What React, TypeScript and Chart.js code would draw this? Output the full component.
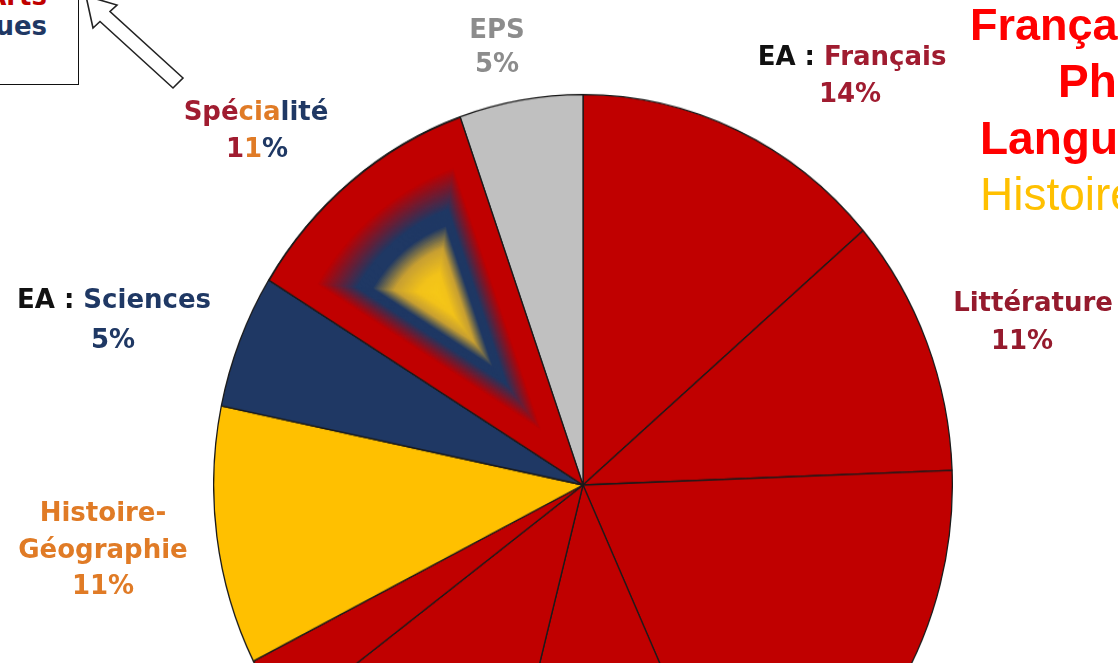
import React, { useEffect, useRef } from "react";
import { Chart, registerables } from "chart.js";

Chart.register(...registerables);

// ---- data (clockwise from 12 o'clock) ----
const categories = [
  "EA : Français",
  "Littérature",
  "Philosophie",
  "Langue vivante 1",
  "Langue vivante 2",
  "Option",
  "Histoire-Géographie",
  "EA : Sciences",
  "Spécialité",
  "EPS",
];
const shares = [13.7, 10.7, 18.8, 10.8, 10.8, 2.75, 10.7, 5.55, 10.8, 5.4];
const sliceColors = [
  "#c00000",
  "#c00000",
  "#c00000",
  "#c00000",
  "#c00000",
  "#c00000",
  "#ffc000",
  "#1f3864",
  "#c00000",
  "#c0c0c0",
];
const percentLabels = ["14%", "11%", "11%", "5%", "11%", "5%"]; // Français, Littérature, Histoire-Géo, Sciences, Spécialité, EPS
const SPECIALITE_INDEX = 8;

const FONT = "'DejaVu Sans', Verdana, sans-serif";
const DARK_RED = "#a01c30";
const NAVY = "#1f3864";
const ORANGE = "#e07b26";

function hexToRgb(h: string) {
  const n = parseInt(h.slice(1), 16);
  return [(n >> 16) & 255, (n >> 8) & 255, n & 255];
}
const burstStops: [number, string][] = [
  [1, "#c00000"],
  [0.72, "#c00000"],
  [0.48, "#1f3864"],
  [0.39, "#1f3864"],
  [0.26, "#c8a032"],
  [0.12, "#f2c21a"],
  [0, "#f6c818"],
];
function burstColor(s: number) {
  for (let i = 0; i < burstStops.length - 1; i++) {
    const [s1, c1] = burstStops[i];
    const [s2, c2] = burstStops[i + 1];
    if (s <= s1 && s >= s2) {
      const t = (s1 - s) / (s1 - s2 || 1);
      const a = hexToRgb(c1);
      const b = hexToRgb(c2);
      const m = a.map((v, k) => Math.round(v + (b[k] - v) * t));
      return `rgb(${m[0]},${m[1]},${m[2]})`;
    }
  }
  return burstStops[burstStops.length - 1][1];
}

const shapeBurstPlugin = {
  id: "shapeBurst",
  afterDatasetsDraw(chart: any) {
    const meta = chart.getDatasetMeta(0);
    const arc = meta.data[SPECIALITE_INDEX];
    if (!arc) return;
    const { x, y, startAngle, endAngle, outerRadius } = arc.getProps(
      ["x", "y", "startAngle", "endAngle", "outerRadius"],
      true
    );
    const ctx = chart.ctx as CanvasRenderingContext2D;
    const mid = (startAngle + endAngle) / 2;
    const cx = x + 0.63 * outerRadius * Math.cos(mid);
    const cy = y + 0.63 * outerRadius * Math.sin(mid);
    const R = outerRadius - 0.5;
    const N = 100;
    for (let i = 0; i < N; i++) {
      const s = 1 - i / N;
      ctx.save();
      ctx.translate(cx, cy);
      ctx.scale(s, s);
      ctx.translate(-cx, -cy);
      ctx.beginPath();
      ctx.moveTo(x, y);
      ctx.arc(x, y, R, startAngle, endAngle);
      ctx.closePath();
      ctx.fillStyle = burstColor(s);
      ctx.fill();
      ctx.restore();
    }
    ctx.save();
    ctx.beginPath();
    ctx.moveTo(x, y);
    ctx.arc(x, y, outerRadius - 0.5, startAngle, endAngle);
    ctx.closePath();
    ctx.strokeStyle = "#1a1a1a";
    ctx.lineWidth = 1.3;
    ctx.stroke();
    ctx.restore();
  },
};

function Line({
  cx,
  cy,
  size = 26,
  color,
  children,
  family = FONT,
  weight = 700,
}: any) {
  return (
    <div
      style={{
        position: "absolute",
        left: cx,
        top: cy,
        transform: "translate(-50%, -50%)",
        whiteSpace: "nowrap",
        fontFamily: family,
        fontWeight: weight,
        fontSize: size,
        lineHeight: 1,
        color,
      }}
    >
      {children}
    </div>
  );
}

function LeftLine({ x, baseline, size, color, weight, children }: any) {
  return (
    <div
      style={{
        position: "absolute",
        left: x,
        top: baseline - size * 0.905,
        whiteSpace: "nowrap",
        fontFamily: "'Liberation Sans', Arial, sans-serif",
        fontWeight: weight,
        fontSize: size,
        lineHeight: 1,
        color,
      }}
    >
      {children}
    </div>
  );
}

export default function App() {
  const ref = useRef<HTMLCanvasElement | null>(null);

  useEffect(() => {
    if (!ref.current) return;
    const chart = new Chart(ref.current, {
      type: "pie",
      data: {
        labels: categories,
        datasets: [
          {
            data: shares,
            backgroundColor: sliceColors,
            borderColor: "#1a1a1a",
            borderWidth: 1.3,
            hoverOffset: 0,
            offset: 0,
          },
        ],
      },
      options: {
        responsive: false,
        animation: false,
        devicePixelRatio: 1,
        layout: { padding: 0 },
        plugins: {
          legend: { display: false },
          tooltip: { enabled: false },
        },
        events: [],
      },
      plugins: [shapeBurstPlugin],
    } as any);
    return () => chart.destroy();
  }, []);

  return (
    <div
      style={{
        position: "fixed",
        left: 0,
        top: 0,
        width: 1118,
        height: 663,
        overflow: "hidden",
        background: "#ffffff",
      }}
    >
      <canvas
        ref={ref}
        width={740}
        height={740}
        style={{
          position: "absolute",
          left: 213,
          top: 115,
          width: 740,
          height: 740,
          transform: "scaleY(1.057)",
          transformOrigin: "50% 50%",
        }}
      />

      {/* top-left box */}
      <div
        style={{
          position: "absolute",
          left: -20,
          top: -20,
          width: 99,
          height: 105,
          border: "1.5px solid #111",
          boxSizing: "border-box",
          background: "#fff",
        }}
      />
      <div
        style={{
          position: "absolute",
          right: 1118 - 47,
          top: -19,
          textAlign: "right",
          fontFamily: FONT,
          fontWeight: 700,
          fontSize: 26,
          lineHeight: "30px",
          whiteSpace: "nowrap",
        }}
      >
        <div style={{ color: "#c00000" }}>Arts</div>
        <div style={{ color: NAVY }}>Mathématiques</div>
      </div>

      {/* arrow */}
      <svg
        width={1118}
        height={663}
        style={{ position: "absolute", left: 0, top: 0 }}
      >
        <polygon
          points="183,78 110,11.5 117,5 86,-4 93,28 100,21.5 173,88"
          fill="#ffffff"
          stroke="#222"
          strokeWidth={1.6}
          strokeLinejoin="miter"
        />
      </svg>

      {/* slice labels */}
      <Line cx={497} cy={29} color="#8c8c8c">EPS</Line>
      <Line cx={497} cy={63} color="#8c8c8c">{percentLabels[5]}</Line>

      <Line cx={852} cy={56} color={DARK_RED}>
        <span style={{ color: "#111" }}>EA : </span>Français
      </Line>
      <Line cx={850} cy={93} color={DARK_RED}>{percentLabels[0]}</Line>

      <Line cx={256} cy={111} color={NAVY}>
        <span style={{ color: DARK_RED }}>Spé</span>
        <span style={{ color: ORANGE }}>cia</span>
        <span style={{ color: NAVY }}>lité</span>
      </Line>
      <Line cx={257} cy={148} color={NAVY}>
        <span style={{ color: DARK_RED }}>1</span>
        <span style={{ color: ORANGE }}>1</span>
        <span style={{ color: NAVY }}>%</span>
      </Line>

      <Line cx={114} cy={299} color={NAVY}>
        <span style={{ color: "#111" }}>EA : </span>Sciences
      </Line>
      <Line cx={113} cy={339} color={NAVY}>{percentLabels[3]}</Line>

      <Line cx={103} cy={512} color={ORANGE}>Histoire-</Line>
      <Line cx={103} cy={549} color={ORANGE}>Géographie</Line>
      <Line cx={103} cy={585} color={ORANGE}>{percentLabels[2]}</Line>

      <Line cx={1033} cy={302} color="#951a2d">Littérature</Line>
      <Line cx={1022} cy={340} color="#951a2d">{percentLabels[1]}</Line>

      {/* right side text */}
      <LeftLine x={970} baseline={43} size={45} color="#ff0000" weight={700}>
        Français,
      </LeftLine>
      <LeftLine x={1058} baseline={100} size={46} color="#ff0000" weight={700}>
        Philosophie,
      </LeftLine>
      <LeftLine x={980} baseline={157} size={46} color="#ff0000" weight={700}>
        Langues
      </LeftLine>
      <LeftLine x={980} baseline={213} size={46} color="#ffc000" weight={400}>
        Histoire-Géographie
      </LeftLine>
    </div>
  );
}
